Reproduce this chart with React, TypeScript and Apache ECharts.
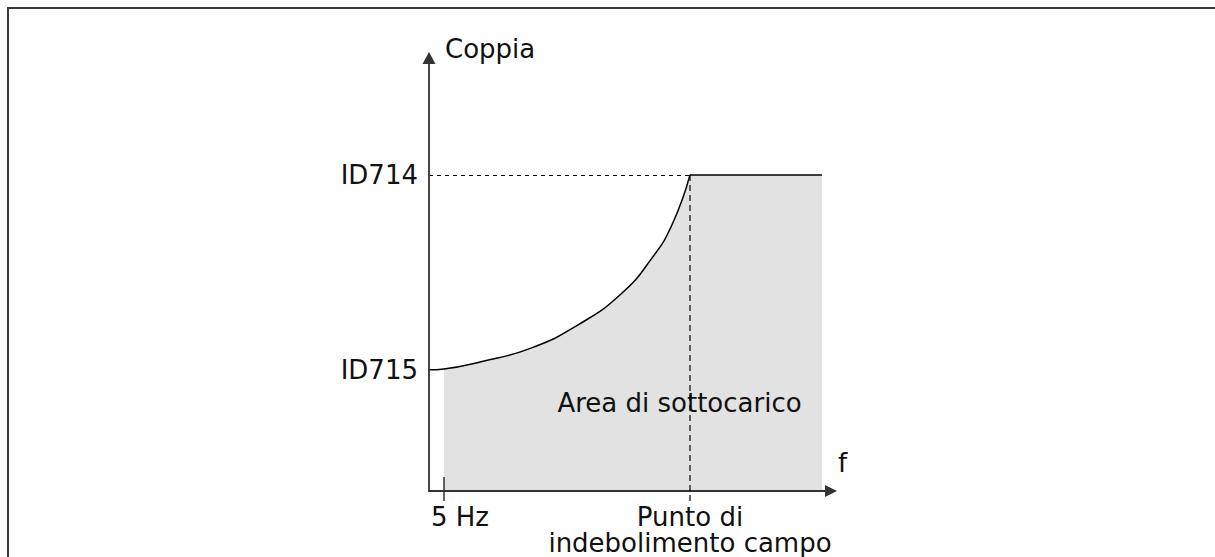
import React, { useEffect, useRef } from "react";
import * as echarts from "echarts";

// ---- data (schematic units: x = frequency units, y = torque units) ----
const curveFreq = [0, 5, 17, 34, 50, 64, 74, 81, 87];
const curveTorque = [28, 28.2, 29.8, 33.0, 38.5, 45.5, 53.5, 61.5, 73];
const plateauFreq = [87, 131];
const plateauTorque = [73, 73];
const fillStartFreq = 5;
const weakeningFreq = 87;
const id714Torque = 73;

const yTickValues = [28, 73];
const yTickLabels = ["ID715", "ID714"];
const xTickValues = [5, 87];
const xTickLabels = ["5 Hz", "Punto di\nindebolimento campo"];
const tickFreqs = [5];
const areaLabelPos = [83.5, 20.3];
const areaLabel = "Area di sottocarico";
const yAxisName = "Coppia";
const xAxisName = "f";

const FONT = "'DejaVu Sans', Verdana, sans-serif";
const TEXT = "#111";
const AXIS = "#333";
const FILL = "#e2e2e2";

export default function App() {
  const ref = useRef<HTMLDivElement>(null);

  useEffect(() => {
    if (!ref.current) return;
    const chart = echarts.init(ref.current, undefined, { renderer: "svg" });

    const curve = curveFreq.map((f, i) => [f, curveTorque[i]]);
    const fillCurve = curve.filter((p) => p[0] >= fillStartFreq);
    const plateau = plateauFreq.map((f, i) => [f, plateauTorque[i]]);

    const textStyle = { fontFamily: FONT, fontSize: 26, color: TEXT };

    const option: any = {
      animation: false,
      graphic: [
        {
          type: "line",
          shape: { x1: 8, y1: 7, x2: 8, y2: 557 },
          style: { stroke: "#3a3a3a", lineWidth: 2 },
          silent: true,
        },
        {
          type: "line",
          shape: { x1: 7, y1: 8, x2: 1215, y2: 8 },
          style: { stroke: "#3a3a3a", lineWidth: 2 },
          silent: true,
        },
      ],
      grid: {
        left: 429,
        top: 58,
        width: 402,
        height: 433,
        containLabel: false,
        outerBoundsMode: "none",
      },
      xAxis: {
        type: "value",
        min: 0,
        max: 134,
        z: 5,
        name: xAxisName,
        nameLocation: "end",
        nameGap: 7,
        nameTextStyle: {
          ...textStyle,
          align: "left",
          verticalAlign: "bottom",
          lineHeight: 56,
        },
        axisLine: {
          show: true,
          onZero: false,
          symbol: ["none", "triangle"],
          symbolSize: [12, 12],
          lineStyle: { color: AXIS, width: 1.8 },
        },
        axisTick: { show: false },
        splitLine: { show: false },
        axisLabel: {
          customValues: xTickValues,
          hideOverlap: false,
          margin: 13,
          ...textStyle,
          lineHeight: 26,
          formatter: (v: number) => {
            const i = xTickValues.indexOf(v);
            if (i < 0) return "";
            return i === 0 ? `{shift|${xTickLabels[i]}}` : xTickLabels[i];
          },
          rich: {
            shift: { ...textStyle, lineHeight: 26, padding: [0, 0, 0, 32] },
          },
        },
      },
      yAxis: {
        type: "value",
        min: 0,
        max: 100,
        z: 5,
        name: yAxisName,
        nameLocation: "end",
        nameGap: 9,
        nameTextStyle: {
          ...textStyle,
          align: "left",
          verticalAlign: "middle",
          padding: [0, 0, 0, 16],
        },
        axisLine: {
          show: true,
          onZero: false,
          symbol: ["none", "triangle"],
          symbolSize: [13, 12],
          lineStyle: { color: AXIS, width: 1.8 },
        },
        axisTick: { show: false },
        splitLine: { show: false },
        axisLabel: {
          customValues: yTickValues,
          hideOverlap: false,
          margin: 11,
          ...textStyle,
          formatter: (v: number) => {
            const i = yTickValues.indexOf(v);
            return i < 0 ? "" : yTickLabels[i];
          },
        },
      },
      series: [
        {
          type: "line",
          data: fillCurve,
          smooth: 0.5,
          symbol: "none",
          lineStyle: { width: 0, opacity: 0 },
          areaStyle: { color: FILL, opacity: 1 },
          z: 1,
          silent: true,
          markPoint: {
            silent: true,
            symbol: "circle",
            symbolSize: 1,
            itemStyle: { color: "rgba(0,0,0,0)" },
            label: {
              show: true,
              position: "inside",
              ...textStyle,
              formatter: () => areaLabel,
            },
            data: [{ coord: areaLabelPos }],
          },
        },
        {
          type: "line",
          data: plateau,
          symbol: "none",
          lineStyle: { color: "#000", width: 1.5 },
          areaStyle: { color: FILL, opacity: 1 },
          z: 2,
          silent: true,
          markLine: {
            silent: true,
            symbol: "none",
            label: { show: false },
            lineStyle: { color: "#000", width: 1, type: [4, 4] },
            data: [
              [{ coord: [0, id714Torque] }, { coord: [weakeningFreq, id714Torque] }],
            ],
          },
        },
        {
          type: "line",
          data: curve,
          smooth: 0.5,
          symbol: "none",
          lineStyle: { color: "#000", width: 1.5 },
          z: 3,
          silent: true,
        },
        {
          type: "custom",
          clip: false,
          z: 10,
          silent: true,
          data: tickFreqs.map((f) => [f, 0]),
          renderItem: (_p: any, api: any) => {
            const p = api.coord([api.value(0), api.value(1)]);
            return {
              type: "line",
              shape: { x1: p[0], y1: p[1] - 14, x2: p[0], y2: p[1] + 10 },
              style: { stroke: AXIS, lineWidth: 1.5 },
            };
          },
        },
        {
          type: "custom",
          clip: false,
          z: 10,
          silent: true,
          data: [[weakeningFreq, id714Torque]],
          renderItem: (_p: any, api: any) => {
            const top = api.coord([api.value(0), api.value(1)]);
            const base = api.coord([api.value(0), 0]);
            return {
              type: "line",
              shape: { x1: top[0], y1: top[1], x2: base[0], y2: base[1] + 10 },
              style: { stroke: "#000", lineWidth: 1.2, lineDash: [6, 4] },
            };
          },
        },
      ],
    };

    chart.setOption(option);
    return () => chart.dispose();
  }, []);

  return (
    <div
      ref={ref}
      style={{ position: "fixed", left: 0, top: 0, width: 1215, height: 557, background: "#fff" }}
    />
  );
}
